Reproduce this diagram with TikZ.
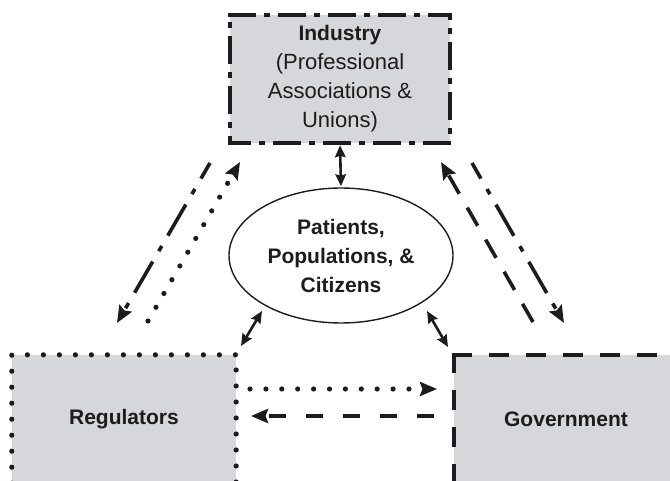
\documentclass[tikz,border=0pt]{standalone}
\usepackage{fontspec}
\setmainfont{Liberation Sans}
\usetikzlibrary{arrows.meta,shapes.geometric}
\definecolor{boxgray}{RGB}{214,215,218}
\definecolor{ink}{RGB}{30,27,28}
\begin{document}
\begin{tikzpicture}[x=1pt,y=-1pt,
  boxfill/.style={fill=boxgray, inner sep=0pt, minimum width=224pt, minimum height=128pt,
    text=ink, font=\fontsize{21}{29}\selectfont\bfseries},
  indborder/.style={draw=ink, line width=3.8pt, line cap=rect,
    dash pattern=on 24.2pt off 11.8pt on 2.2pt off 11.8pt},
  dotborder/.style={draw=ink, line width=5.2pt, line cap=round, dash pattern=on 0pt off 16pt},
  dashborder/.style={draw=ink, line width=3.8pt, line cap=rect, dash pattern=on 16.2pt off 20.8pt},
  bigtip/.style={-{Stealth[length=17pt,width=14pt,inset=2.5pt]}},
  dotline/.style={draw=ink, line width=5.2pt, line cap=round, dash pattern=on 0pt off 15.9pt},
  dashline/.style={draw=ink, line width=3.6pt, dash pattern=on 21pt off 16pt},
  hdashline/.style={draw=ink, line width=3.6pt, dash pattern=on 17pt off 20pt},
  ddline/.style={draw=ink, line width=3.6pt, dash pattern=on 36pt off 12pt on 6pt off 12pt, dash phase=18pt},
  twoway/.style={draw=ink, line width=2.6pt,
    {Stealth[length=12pt,width=10.5pt,inset=1.5pt]}-{Stealth[length=12pt,width=10.5pt,inset=1.5pt]}},
]
\useasboundingbox (0,0) rectangle (670,481);
\clip (0,0) rectangle (670,481);

% Industry box
\node[boxfill, minimum width=220pt, align=center, font=\fontsize{22}{29}\selectfont] (ind) at (340,79)
  {{\fontsize{21}{29}\selectfont\bfseries Industry}\\(Professional\\Associations \&\\Unions)};
\draw[indborder] (ind.north west) -- (ind.north east) -- (ind.south east) -- (ind.south west) -- cycle;

% Regulators box (runs off the lower edge)
\node[boxfill] (reg) at (124,419) {Regulators};
\draw[dotborder] (reg.south west) -- (reg.north west) -- (reg.north east) -- (reg.south east);

% Government box (runs off the lower and right edges)
\node[boxfill] (gov) at (566,419) {Government};
\draw[dashborder] (gov.north west) -- (gov.south west);
\draw[dashborder] (gov.north west) -- (gov.north east);

% Central ellipse
\node[draw=ink, ellipse, line width=1.4pt, inner sep=0pt, minimum width=224pt, minimum height=135pt,
  align=center, text=ink, font=\fontsize{21}{29}\selectfont\bfseries] (pat) at (341,255.5)
  {Patients,\\Populations, \&\\Citizens};

% End points of the exchange arrows
\coordinate (indL1) at (210,163);
\coordinate (regT1) at (117,323);
\coordinate (regT2) at (148,321);
\coordinate (indL2) at (240,162);
\coordinate (indR1) at (441,162);
\coordinate (govT1) at (533,322);
\coordinate (indR2) at (472,163);
\coordinate (govT2) at (564,323);
\coordinate (regR1) at (250,389);
\coordinate (govL1) at (437,389);
\coordinate (govL2) at (434,416);
\coordinate (regR2) at (251,416);
\coordinate (patSW) at (262,311);
\coordinate (regNE) at (241,346);
\coordinate (patSE) at (427,311);
\coordinate (govNW) at (448,347);

% Industry <-> Regulators
\draw[ddline, bigtip] (indL1) -- (regT1);
\draw[dotline, bigtip] (regT2) -- (indL2);

% Industry <-> Government
\draw[dashline, bigtip] (govT1) -- (indR1);
\draw[ddline, bigtip] (indR2) -- (govT2);

% Regulators <-> Government
\draw[dotline, bigtip] (regR1) -- (govL1);
\draw[hdashline, bigtip] (govL2) -- (regR2);

% Links with the public
\draw[twoway, shorten <=2pt, shorten >=1pt] (ind.south) -- (pat.north);
\draw[twoway] (patSW) -- (regNE);
\draw[twoway] (patSE) -- (govNW);
\end{tikzpicture}
\end{document}
